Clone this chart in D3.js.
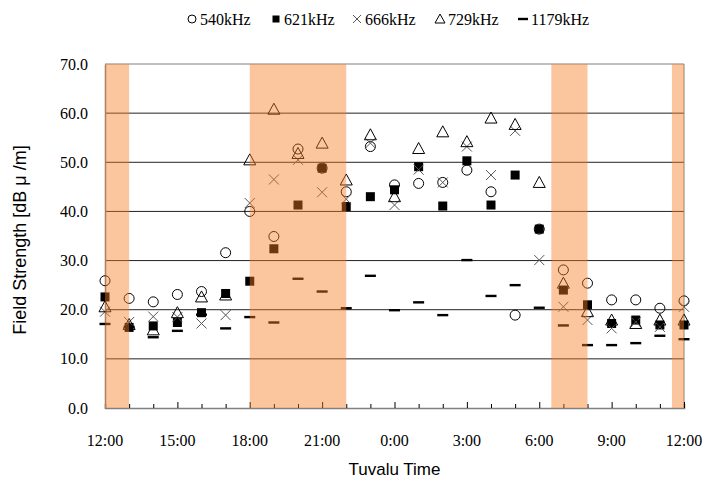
<!DOCTYPE html>
<html>
<head>
<meta charset="utf-8">
<script src="https://cdn.jsdelivr.net/npm/d3@7"></script>
<style>
  body { margin: 0; background: #fff; }
  svg { display: block; }
  .tick-lbl { font-family: "Liberation Serif", "Times New Roman", serif; font-size: 16px; fill: #000; }
  .title { font-family: "Liberation Sans", Arial, sans-serif; font-size: 17px; fill: #000; }
</style>
</head>
<body>
<div id="chart"></div>
<script>
// hours since 12:00 (0..24), labelled every 3 h
const hours = d3.range(0, 25);
const tickLabels = ["12:00", "15:00", "18:00", "21:00", "0:00", "3:00", "6:00", "9:00", "12:00"];
const yTicks = [0, 10, 20, 30, 40, 50, 60, 70];

// shaded periods, in hours since 12:00
const shaded = [[0, 1], [6, 10], [18.5, 20], [23.5, 24]];

const s540  = [25.9, 22.3, 21.6, 23.1, 23.7, 31.6, 40.0, 34.9, 52.7, 48.8, 44.0, 53.2, 45.4, 45.7, 45.9, 48.4, 44.0, 18.9, 36.4, 28.1, 25.4, 22.0, 22.0, 20.3, 21.8];
const s621  = [22.6, 16.4, 16.7, 17.4, 19.4, 23.3, 25.8, 32.4, 41.3, 48.8, 41.0, 43.0, 44.4, 49.1, 41.1, 50.3, 41.3, 47.4, 36.4, 24.0, 21.0, 17.2, 17.9, 16.9, 16.9];
const s666  = [19.6, 17.5, 18.6, 18.5, 17.2, 18.9, 41.7, 46.5, 50.5, 43.9, 42.5, 53.9, 41.3, 48.5, 45.9, 53.2, 47.4, 56.4, 30.1, 20.6, 17.9, 16.2, 17.5, 16.5, 20.6];
const s729  = [20.6, 17.0, 15.9, 19.4, 22.6, 23.0, 50.5, 60.8, 51.8, 53.9, 46.4, 55.6, 43.0, 52.8, 56.2, 54.2, 59.0, 57.7, 45.9, 25.4, 19.6, 17.9, 17.2, 17.9, 17.9];
const s1179 = [17.1, 16.5, 14.4, 15.7, 19.0, 16.2, 18.5, 17.4, 26.3, 23.7, 20.3, 26.9, 19.9, 21.5, 18.9, 30.1, 22.8, 25.0, 20.4, 16.8, 12.8, 12.8, 13.2, 14.7, 14.0];

const series = [
  { name: "540kHz", values: s540, kind: "circle" },
  { name: "621kHz", values: s621, kind: "square" },
  { name: "666kHz", values: s666, kind: "cross" },
  { name: "729kHz", values: s729, kind: "triangle" },
  { name: "1179kHz", values: s1179, kind: "dash" }
];

const W = 708, H = 486;
const margin = { top: 64, right: 24, bottom: 78, left: 105 };

const svg = d3.select("#chart").append("svg").attr("width", W).attr("height", H);

const x = d3.scaleLinear().domain([0, 24]).range([margin.left, W - margin.right]);
const y = d3.scaleLinear().domain([0, 70]).range([H - margin.bottom, margin.top]);

const plot = svg.append("g");

// gridlines
plot.selectAll("line.grid").data(yTicks.filter(d => d > 0)).join("line")
  .attr("class", "grid")
  .attr("x1", x(0)).attr("x2", x(24))
  .attr("y1", d => y(d)).attr("y2", d => y(d))
  .attr("stroke", d => d === 70 ? "#808080" : "#222").attr("stroke-width", 1);

// right border
plot.append("line").attr("x1", x(24)).attr("x2", x(24)).attr("y1", y(0)).attr("y2", y(70))
  .attr("stroke", "#808080");

// axes
const gx = svg.append("g").attr("transform", `translate(0,${y(0)})`)
  .call(d3.axisBottom(x).tickValues(hours).tickSize(-4).tickFormat(""));
gx.selectAll(".tick line").attr("y2", d => d % 3 === 0 ? -6 : -4).attr("stroke", "#000");
gx.select(".domain").attr("stroke", "#808080").attr("stroke-width", 1.5);

const gy = svg.append("g").attr("transform", `translate(${x(0)},0)`)
  .call(d3.axisLeft(y).tickValues(yTicks).tickSize(0).tickFormat(""));
gy.select(".domain").attr("stroke", "#808080").attr("stroke-width", 1.5);

svg.append("g").selectAll("text").data(yTicks).join("text")
  .attr("class", "tick-lbl")
  .attr("x", 88).attr("y", d => y(d) + 5.5)
  .attr("text-anchor", "end")
  .text(d => d.toFixed(1));

svg.append("g").selectAll("text").data(tickLabels).join("text")
  .attr("class", "tick-lbl")
  .attr("x", (d, i) => x(i * 3)).attr("y", 446)
  .attr("text-anchor", "middle")
  .text(d => d);

// markers
function drawMarker(g, kind, cx, cy) {
  if (kind === "circle") {
    g.append("circle").attr("cx", cx).attr("cy", cy).attr("r", 5)
      .attr("fill", "none").attr("stroke", "#000").attr("stroke-width", 1);
  } else if (kind === "square") {
    g.append("rect").attr("x", cx - 4.5).attr("y", cy - 4.5).attr("width", 9).attr("height", 9)
      .attr("fill", "#000");
  } else if (kind === "cross") {
    g.append("path").attr("d", `M${cx - 5},${cy - 5}L${cx + 5},${cy + 5}M${cx - 5},${cy + 5}L${cx + 5},${cy - 5}`)
      .attr("stroke", "#555").attr("stroke-width", 1).attr("fill", "none");
  } else if (kind === "triangle") {
    g.append("path").attr("d", `M${cx},${cy - 6}L${cx + 6},${cy + 5}L${cx - 6},${cy + 5}Z`)
      .attr("fill", "none").attr("stroke", "#000").attr("stroke-width", 1);
  } else {
    g.append("rect").attr("x", cx - 5.5).attr("y", cy - 1.2).attr("width", 11).attr("height", 2.4)
      .attr("fill", "#000");
  }
}

const gm = svg.append("g");
series.forEach(s => {
  const g = gm.append("g");
  s.values.forEach((v, i) => drawMarker(g, s.kind, x(hours[i]), y(v)));
});

// shaded periods laid over the marks
svg.append("g").selectAll("rect").data(shaded).join("rect")
  .attr("x", d => x(d[0])).attr("width", d => x(d[1]) - x(d[0]))
  .attr("y", y(70)).attr("height", y(0) - y(70))
  .attr("fill", "rgb(246,123,35)").attr("fill-opacity", 0.44);

// legend
const legend = svg.append("g").attr("transform", "translate(0,19)");
const legX = [192, 276, 357, 440, 523];
series.forEach((s, i) => {
  const g = legend.append("g");
  if (s.kind === "circle") {
    g.append("circle").attr("cx", legX[i]).attr("cy", 0).attr("r", 4).attr("fill", "none").attr("stroke", "#000");
  } else if (s.kind === "square") {
    g.append("rect").attr("x", legX[i] - 3.5).attr("y", -3.5).attr("width", 7).attr("height", 7).attr("fill", "#000");
  } else if (s.kind === "cross") {
    g.append("path").attr("d", `M${legX[i] - 4},-4L${legX[i] + 4},4M${legX[i] - 4},4L${legX[i] + 4},-4`).attr("stroke", "#555");
  } else if (s.kind === "triangle") {
    g.append("path").attr("d", `M${legX[i]},-5L${legX[i] + 5},4L${legX[i] - 5},4Z`).attr("fill", "none").attr("stroke", "#000");
  } else {
    g.append("rect").attr("x", legX[i] - 5).attr("y", -1.2).attr("width", 10).attr("height", 2.4).attr("fill", "#000");
  }
  g.append("text").attr("class", "tick-lbl").attr("x", legX[i] + 8).attr("y", 5.5).text(s.name);
});

// titles
svg.append("text").attr("class", "title")
  .attr("x", x(12)).attr("y", 475).attr("text-anchor", "middle")
  .text("Tuvalu Time");

svg.append("text").attr("class", "title")
  .attr("transform", `translate(26,${(y(0) + y(70)) / 2 + 4}) rotate(-90)`)
  .attr("text-anchor", "middle")
  .style("font-size", "18px")
  .text("Field Strength [dB μ /m]");
</script>
</body>
</html>
